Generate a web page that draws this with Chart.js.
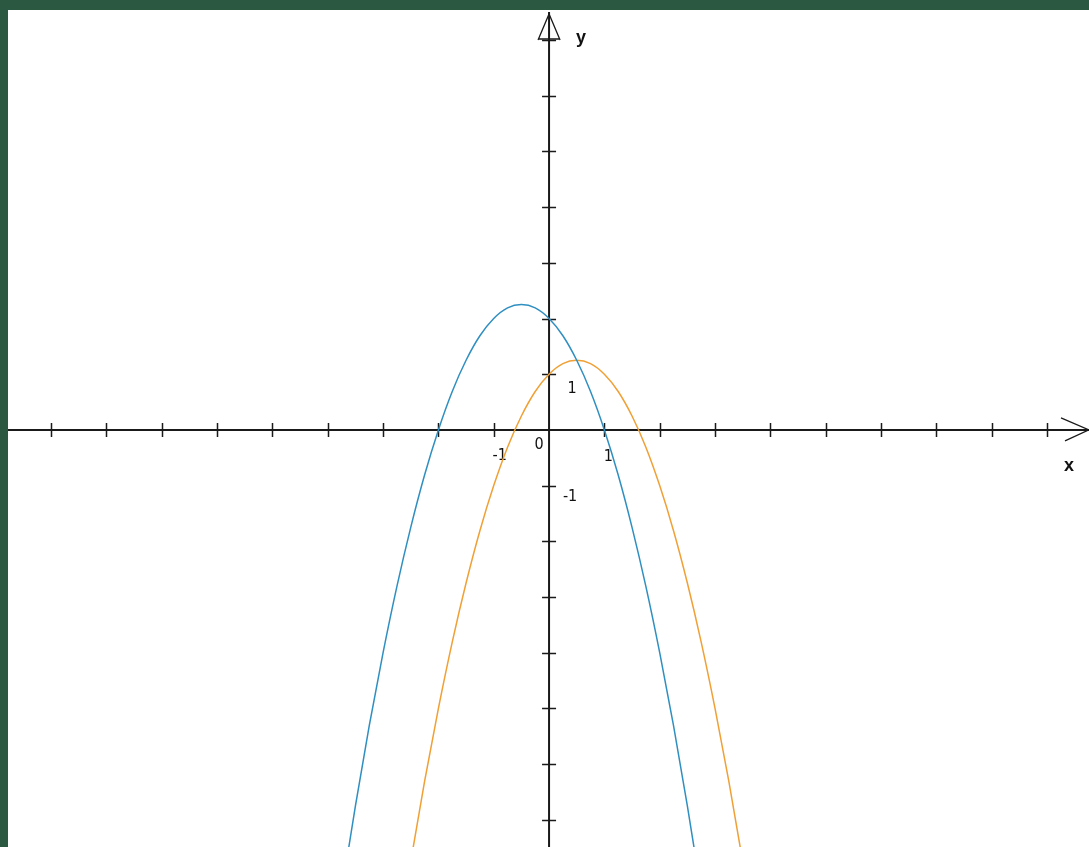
<!DOCTYPE html>
<html>
<head>
<meta charset="utf-8">
<script src="https://cdn.jsdelivr.net/npm/chart.js@4/dist/chart.umd.min.js"></script>
<style>
    html, body { margin: 0; padding: 0; background: #2b5840; overflow: hidden; }
    #wrap { position: absolute; left: 8px; top: 10px; width: 1081px; height: 837px; background: #fff; }
</style>
</head>
<body>
<div id="wrap"><canvas id="graph"></canvas></div>
<script>
// blue curve, points
var blueX = [-3.75, -3.5, -3.25, -3, -2.75, -2.5, -2.25, -2, -1.75, -1.5, -1.25, -1, -0.75, -0.5,
    -0.25, 0, 0.25, 0.5, 0.75, 1, 1.25, 1.5, 1.75, 2, 2.25, 2.5, 2.75];
var blueY = [-8.31, -6.75, -5.31, -4, -2.81, -1.75, -0.81, 0, 0.69, 1.25, 1.69, 2, 2.19, 2.25,
    2.19, 2, 1.69, 1.25, 0.69, 0, -0.81, -1.75, -2.81, -4, -5.31, -6.75, -8.31];

// orange curve
var orangeX = [-2.75, -2.5, -2.25, -2, -1.75, -1.5, -1.25, -1, -0.75, -0.5, -0.25, 0, 0.25, 0.5,
    0.75, 1, 1.25, 1.5, 1.75, 2, 2.25, 2.5, 2.75, 3, 3.25, 3.5, 3.75];
var orangeY = [-9.31, -7.75, -6.31, -5, -3.81, -2.75, -1.81, -1, -0.31, 0.25, 0.69, 1, 1.19, 1.25,
    1.19, 1, 0.69, 0.25, -0.31, -1, -1.81, -2.75, -3.81, -5, -6.31, -7.75, -9.31];

// axis ticks and the few numbered ones
var xTicks = [-9, -8, -7, -6, -5, -4, -3, -2, -1, 1, 2, 3, 4, 5, 6, 7, 8, 9];
var yTicks = [-7, -6, -5, -4, -3, -2, -1, 1, 2, 3, 4, 5, 6, 7];
var xLabels = ['-1', '0', '1'];
var yLabels = ['1', '-1'];

function toPoints(xs, ys) {
    return xs.map(function (x, i) {
        return { x: x, y: ys[i] };
    });
}

var axesPlugin = {
    id: 'axes',
    beforeDatasetsDraw: function (chart) {
        var ctx = chart.ctx;
        var sx = chart.scales.x;
        var sy = chart.scales.y;
        var ox = sx.getPixelForValue(0);
        var oy = sy.getPixelForValue(0);
        var area = chart.chartArea;

        ctx.save();
        ctx.strokeStyle = '#1a1a1a';
        ctx.lineWidth = 2;
        ctx.beginPath();
        ctx.moveTo(area.left, oy);
        ctx.lineTo(area.right, oy);
        ctx.moveTo(ox, area.top + 2);
        ctx.lineTo(ox, area.bottom);
        ctx.stroke();

        ctx.lineWidth = 1.5;
        ctx.beginPath();
        xTicks.forEach(function (t) {
            var px = Math.round(sx.getPixelForValue(t)) + 0.5;
            ctx.moveTo(px, oy - 7);
            ctx.lineTo(px, oy + 7);
        });
        yTicks.forEach(function (t) {
            var py = Math.round(sy.getPixelForValue(t)) + 0.5;
            ctx.moveTo(ox - 7, py);
            ctx.lineTo(ox + 7, py);
        });
        ctx.stroke();

        // arrows
        ctx.lineWidth = 1.3;
        ctx.beginPath();
        ctx.moveTo(ox - 11, area.top + 30);
        ctx.lineTo(ox, area.top + 4);
        ctx.lineTo(ox + 11, area.top + 30);
        ctx.moveTo(ox - 10, area.top + 29);
        ctx.lineTo(ox + 10, area.top + 29);
        ctx.moveTo(area.right - 28, oy - 12);
        ctx.lineTo(area.right, oy);
        ctx.lineTo(area.right - 24, oy + 11);
        ctx.stroke();

        ctx.fillStyle = '#111';
        ctx.font = '16px "Liberation Sans Narrow", "DejaVu Sans Condensed", Arial, sans-serif';
        ctx.textAlign = 'center';
        ctx.textBaseline = 'middle';
        ctx.fillText(xLabels[0], sx.getPixelForValue(-1) + 6, oy + 26);
        ctx.fillText(xLabels[1], ox - 10, oy + 15);
        ctx.fillText(xLabels[2], sx.getPixelForValue(1) + 4, oy + 27);
        ctx.fillText(yLabels[0], ox + 23, sy.getPixelForValue(1) + 15);
        ctx.fillText(yLabels[1], ox + 21, sy.getPixelForValue(-1) + 11);

        ctx.font = 'bold 18px "Liberation Sans", Arial, sans-serif';
        ctx.fillText('y', ox + 32, area.top + 28);
        ctx.fillText('x', area.right - 20, oy + 36);
        ctx.restore();
    },
};

var graph = new Chart(document.getElementById('graph'), {
    type: 'scatter',
    data: {
        datasets: [
            {
                data: toPoints(blueX, blueY),
                showLine: true,
                borderColor: '#2f8fc0',
                borderWidth: 1.5,
                pointRadius: 0,
                cubicInterpolationMode: 'monotone',
            },
            {
                data: toPoints(orangeX, orangeY),
                showLine: true,
                borderColor: '#f0a035',
                borderWidth: 1.5,
                pointRadius: 0,
                cubicInterpolationMode: 'monotone',
            },
        ],
    },
    options: {
        responsive: true,
        maintainAspectRatio: false,
        animation: false,
        layout: { padding: 0 },
        scales: {
            x: { type: 'linear', min: -9.78, max: 9.76, display: false },
            y: { type: 'linear', min: -7.49, max: 7.54, display: false },
        },
        plugins: {
            legend: { display: false },
            tooltip: { enabled: false },
        },
    },
    plugins: [axesPlugin],
});
</script>
</body>
</html>
